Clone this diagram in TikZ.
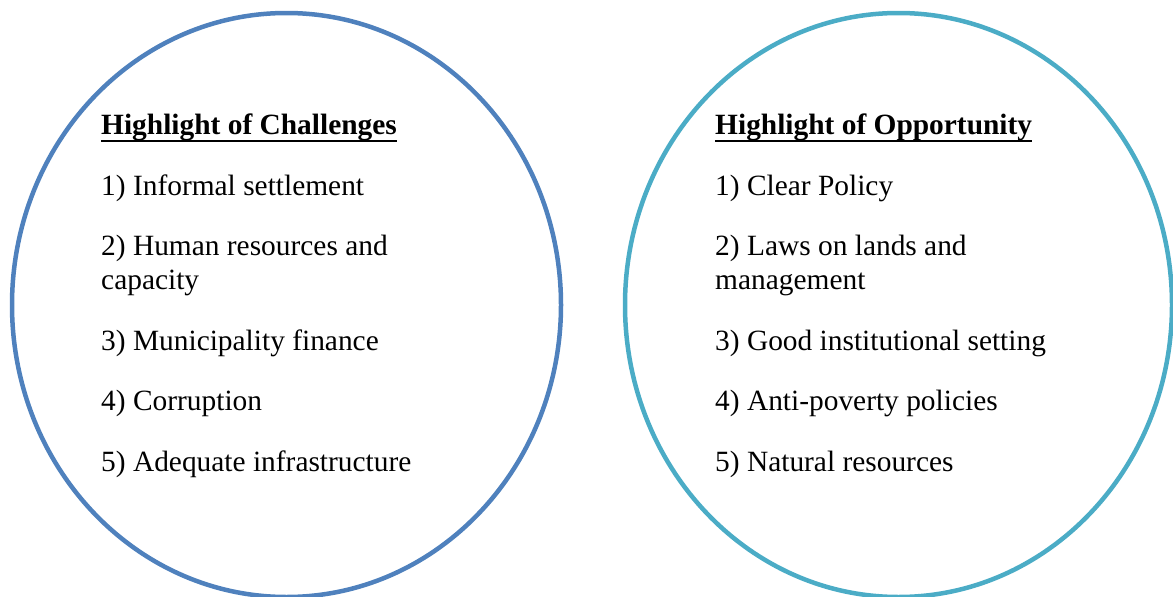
\documentclass[tikz,border=0pt]{standalone}
\usepackage{fontspec}
\setmainfont{Liberation Serif}
\usepackage{xcolor}
\usetikzlibrary{positioning,shapes.geometric,calc}

\definecolor{chalblue}{HTML}{4F81BD}
\definecolor{oppaqua}{HTML}{4BACC6}

\begin{document}
\begin{tikzpicture}[
  x=1pt, y=-1pt,
  bubble/.style={draw, ellipse, line width=4.5pt, inner sep=0pt, minimum width=549pt, minimum height=584pt},
  head/.style={inner sep=0pt, anchor=base west, font=\fontsize{29.4}{34}\selectfont\bfseries},
  item/.style={inner sep=0pt, anchor=base west, align=left, font=\fontsize{29.4}{34}\selectfont},
  uline/.style={line width=2pt}
]
\useasboundingbox (0,0) rectangle (1173,597);

% left bubble: challenges
\node[bubble, draw=chalblue] (chal) at (286.5,305) {};
\node[head] (chal_head) at (101,134) {Highlight of Challenges};
\draw[uline] ([yshift=-7pt]chal_head.base west) -- ([yshift=-7pt]chal_head.base east);
\node[item] (chal_1) at ([yshift=-61pt]chal_head.base west) {1) Informal settlement};
\node[item] (chal_2) at ([yshift=-94pt]chal_1.base west) {2) Human resources and\\capacity};
\node[item] (chal_3) at ([yshift=-61pt]chal_2.base west) {3) Municipality finance};
\node[item] (chal_4) at ([yshift=-60pt]chal_3.base west) {4) Corruption};
\node[item] (chal_5) at ([yshift=-61pt]chal_4.base west) {5) Adequate infrastructure};

% right bubble: opportunity
\node[bubble, draw=oppaqua, minimum width=547pt] (opp) at (898.5,305) {};
\node[head] (opp_head) at (715,134) {Highlight of Opportunity};
\draw[uline] ([yshift=-7pt]opp_head.base west) -- ([yshift=-7pt]opp_head.base east);
\node[item] (opp_1) at ([yshift=-61pt]opp_head.base west) {1) Clear Policy};
\node[item] (opp_2) at ([yshift=-94pt]opp_1.base west) {2) Laws on lands and\\management};
\node[item] (opp_3) at ([yshift=-61pt]opp_2.base west) {3) Good institutional setting};
\node[item] (opp_4) at ([yshift=-60pt]opp_3.base west) {4) Anti-poverty policies};
\node[item] (opp_5) at ([yshift=-61pt]opp_4.base west) {5) Natural resources};

\end{tikzpicture}
\end{document}
